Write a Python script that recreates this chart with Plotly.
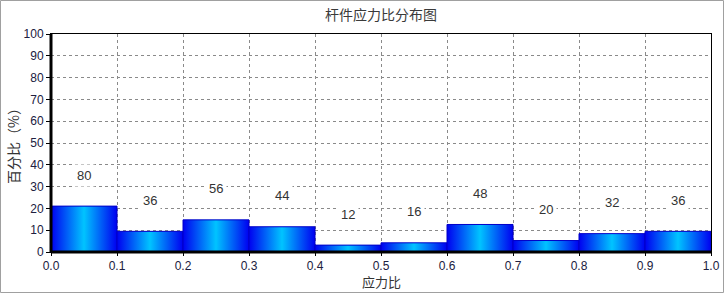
import plotly.graph_objects as go

# ---- data ----
bin_starts = [0.0, 0.1, 0.2, 0.3, 0.4, 0.5, 0.6, 0.7, 0.8, 0.9]
bin_width = 0.1
counts = [80, 36, 56, 44, 12, 16, 48, 20, 32, 36]
percents = [21.05, 9.47, 14.74, 11.58, 3.16, 4.21, 12.63, 5.26, 8.42, 9.47]
title_text = "杆件应力比分布图"
x_title = "应力比"
y_title = "百分比（%）"

W, H = 724, 294
ML, MR, MT, MB = 51, 13, 34, 42
PW, PH = W - ML - MR, H - MT - MB

fig = go.Figure()
grad = [[0, "#0000F0"], [0.5, "#00C4FF"], [1, "#0000F0"]]
for x0, p in zip(bin_starts, percents):
    x1 = x0 + bin_width
    fig.add_trace(go.Scatter(
        x=[x0, x0, x1, x1, x0], y=[0, p, p, 0, 0],
        mode="lines", fill="toself",
        fillgradient=dict(type="horizontal", colorscale=grad),
        line=dict(color="#0000C8", width=1),
        hoverinfo="skip", showlegend=False,
    ))

for x0, p, c in zip(bin_starts, percents, counts):
    fig.add_annotation(
        x=x0 + bin_width / 2, y=p, yshift=31, text=str(c), showarrow=False,
        xanchor="center", yanchor="middle",
        font=dict(family="Liberation Sans, Arial", size=13, color="#333333"),
        bgcolor="white", borderpad=3,
    )

tickfont = dict(family="Liberation Sans, Arial", size=12, color="#202040")
grid = dict(showgrid=True, gridcolor="#8a8a8a", gridwidth=1, griddash="3px,3px",
            showline=True, linecolor="black", linewidth=1, mirror=True,
            ticks="outside", tickcolor="black", tickfont=tickfont,
            zeroline=False, automargin=False)

fig.update_xaxes(range=[0, 1], dtick=0.1, tick0=0, tickformat=".1f", ticklen=3, **grid)
fig.update_yaxes(range=[0, 100], dtick=10, tick0=0, ticklen=4, **grid)

# thick left and bottom axis lines
fig.add_shape(type="line", xref="paper", yref="paper", x0=0, x1=0, y0=0, y1=1,
              line=dict(color="black", width=3), layer="above")
fig.add_shape(type="line", xref="paper", yref="paper", x0=0, x1=1, y0=0, y1=0,
              line=dict(color="black", width=3), layer="above")
# outer frame
fig.add_shape(type="rect", xref="paper", yref="paper",
              x0=(0.5 - ML) / PW, x1=(W - 0.5 - ML) / PW,
              y0=(MT + PH - (H - 1.5)) / PH, y1=(MT + PH - 0.5) / PH,
              line=dict(color="#a0a0a0", width=1), layer="above")

cjk = "Noto Sans CJK SC"
common = dict(xref="paper", yref="paper", showarrow=False,
              xanchor="center", yanchor="middle")
fig.add_annotation(x=0.5, y=(MT + PH - 14) / PH, text=title_text,
                   font=dict(family=cjk, size=14, color="#3a3a3a"), **common)
fig.add_annotation(x=0.5, y=(MT + PH - 281) / PH, text=x_title,
                   font=dict(family=cjk, size=13, color="#333333"), **common)
fig.add_annotation(x=(13 - ML) / PW, y=(MT + PH - 143) / PH, text=y_title,
                   textangle=-90,
                   font=dict(family=cjk, size=14, color="#333333"), **common)

fig.update_layout(
    width=W, height=H, margin=dict(l=ML, r=MR, t=MT, b=MB, autoexpand=False),
    paper_bgcolor="white", plot_bgcolor="white", showlegend=False,
)
fig.write_html("out.html")
